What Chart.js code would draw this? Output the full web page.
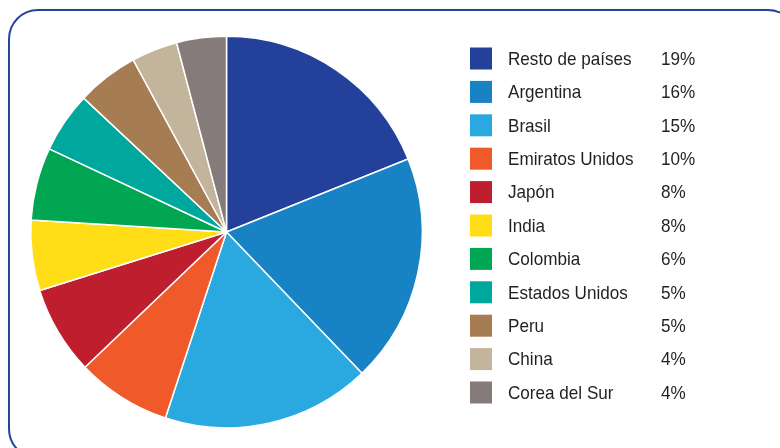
<!DOCTYPE html>
<html>
<head>
<meta charset="utf-8">
<script src="https://cdn.jsdelivr.net/npm/chart.js@4/dist/chart.umd.min.js"></script>
<style>
  html, body { margin: 0; padding: 0; background: #fff; overflow: hidden; }
  #wrap { position: relative; width: 780px; height: 448px; }
  #frame {
    position: absolute; left: 8px; top: 9px; width: 790px; height: 450px;
    border: 2px solid #26449a; border-radius: 30px; box-sizing: border-box;
  }
  canvas { position: absolute; left: 0; top: 0; }
</style>
</head>
<body>
<div id="wrap">
  <div id="frame"></div>
  <canvas id="myGraph" width="780" height="448"></canvas>
</div>
<script>
// countries in legend order
const paises = ['Resto de países', 'Argentina', 'Brasil', 'Emiratos Unidos', 'Japón', 'India',
  'Colombia', 'Estados Unidos', 'Peru', 'China', 'Corea del Sur'];
// slice sizes as drawn in the pie
const valores = [18.9, 18.9, 17.2, 7.8, 7.3, 5.8, 6.0, 5.0, 5.1, 3.8, 4.1];
// percentages written in the legend
const porcentajes = ['19%', '16%', '15%', '10%', '8%', '8%', '6%', '5%', '5%', '4%', '4%'];
const colores = ['#23409a', '#1783c4', '#29a9e0', '#f05a2b', '#be1e2d', '#ffde17',
  '#00a651', '#00a79d', '#a67c52', '#c2b59b', '#857b7a'];

const ctx = document.getElementById('myGraph');

// legend drawn by hand: square, name, percent column
const leyenda = {
  id: 'leyenda',
  afterDraw(chart) {
    const c = chart.ctx;
    const labels = chart.data.labels;
    const ds = chart.data.datasets[0];
    c.save();
    c.textBaseline = 'middle';
    for (let i = 0; i < labels.length; i++) {
      const y = 58.5 + i * 33.4;
      c.fillStyle = ds.backgroundColor[i];
      c.fillRect(470, y - 11, 22, 22);
      c.fillStyle = '#231f20';
      c.font = '19px "Liberation Sans", Arial, sans-serif';
      c.save();
      c.translate(508, y + 1);
      c.scale(0.9, 1);
      c.fillText(labels[i], 0, 0);
      c.restore();
      c.save();
      c.translate(661, y + 1);
      c.scale(0.9, 1);
      c.fillText(porcentajes[i], 0, 0);
      c.restore();
    }
    c.restore();
  }
};

const data = {
  labels: paises,
  datasets: [{
    data: valores,
    backgroundColor: colores,
    borderColor: '#ffffff',
    borderWidth: 1.5
  }]
};

const config = {
  type: 'pie',
  data: data,
  options: {
    responsive: false,
    animation: false,
    layout: {
      padding: { left: 30, top: 35, bottom: 19, right: 357 }
    },
    plugins: {
      legend: { display: false },
      tooltip: { enabled: false }
    }
  },
  plugins: [leyenda]
};
const myChart = new Chart(ctx, config);
</script>
</body>
</html>
